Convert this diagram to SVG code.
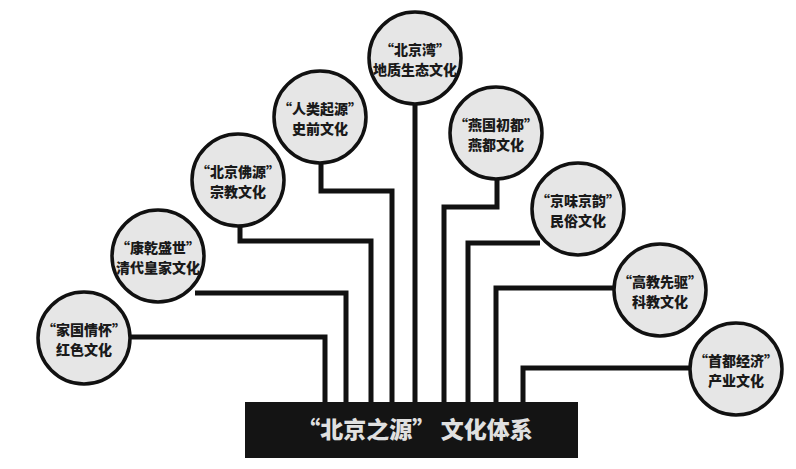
<svg xmlns="http://www.w3.org/2000/svg" width="796" height="469" viewBox="0 0 796 469">
<style>
.c{fill:#e6e6e6;stroke:#111;stroke-width:3.5}
.t{font-family:"Noto Sans CJK SC","Noto Sans",sans-serif;font-weight:900;font-size:14px;fill:#1a1a1a;text-anchor:middle}
.ln{fill:none;stroke:#111;stroke-width:5;stroke-linejoin:miter}
</style>
<rect width="796" height="469" fill="#fff"/>
<g id="connectors">
<path class="ln" d="M130 337H325V404"/>
<path class="ln" d="M195 293H346V404"/>
<path class="ln" d="M240 225V241H371V404"/>
<path class="ln" d="M321 162V191H392V404"/>
<path class="ln" d="M415 104V404"/>
<path class="ln" d="M497 178V207H444V404"/>
<path class="ln" d="M540 243H468V404"/>
<path class="ln" d="M615 288H496V404"/>
<path class="ln" d="M690 368H523V404"/>
</g>
<g id="n1"><circle class="c" cx="84" cy="338" r="46"/><text class="t" x="84" y="335">“家国情怀”</text><text class="t" x="84" y="355">红色文化</text></g>
<g id="n2"><circle class="c" cx="158" cy="256" r="46"/><text class="t" x="158" y="253">“康乾盛世”</text><text class="t" x="158" y="273">清代皇家文化</text></g>
<g id="n3"><circle class="c" cx="238" cy="180" r="46"/><text class="t" x="238" y="177">“北京佛源”</text><text class="t" x="238" y="197">宗教文化</text></g>
<g id="n4"><circle class="c" cx="320" cy="117" r="46"/><text class="t" x="320" y="114">“人类起源”</text><text class="t" x="320" y="134">史前文化</text></g>
<g id="n5"><circle class="c" cx="415" cy="58" r="46"/><text class="t" x="415" y="55">“北京湾”</text><text class="t" x="415" y="75">地质生态文化</text></g>
<g id="n6"><circle class="c" cx="496" cy="133" r="46"/><text class="t" x="496" y="130">“燕国初都”</text><text class="t" x="496" y="150">燕都文化</text></g>
<g id="n7"><circle class="c" cx="578" cy="209" r="46"/><text class="t" x="578" y="206">“京味京韵”</text><text class="t" x="578" y="226">民俗文化</text></g>
<g id="n8"><circle class="c" cx="660" cy="290" r="46"/><text class="t" x="660" y="287">“高教先驱”</text><text class="t" x="660" y="307">科教文化</text></g>
<g id="n9"><circle class="c" cx="736" cy="369" r="46"/><text class="t" x="736" y="366">“首都经济”</text><text class="t" x="736" y="386">产业文化</text></g>
<g id="root"><rect x="245" y="402" width="333" height="56" fill="#141414"/><text x="415" y="438" font-family="Noto Sans CJK SC,sans-serif" font-weight="900" font-size="23" fill="#e0e0e0" text-anchor="middle">“北京之源” 文化体系</text></g>
</svg>
